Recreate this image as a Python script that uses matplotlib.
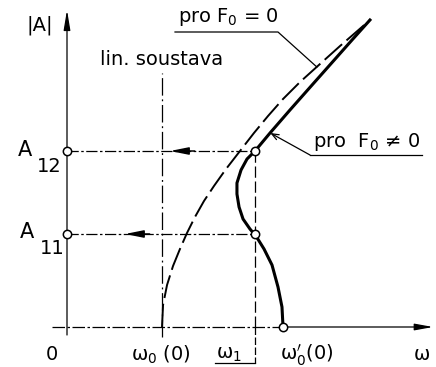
import matplotlib.pyplot as plt

plt.rcParams['font.family'] = ['DejaVu Sans']
plt.rcParams['mathtext.fontset'] = 'dejavusans'

# backbone curve for F0 = 0 (dashed)
omega_free = [1.000, 1.011, 1.053, 1.116, 1.189, 1.263, 1.347, 1.442, 1.547,
              1.674, 1.821, 1.968, 2.116, 2.274, 2.453, 2.663, 2.874, 3.032, 3.189]
amp_free = [0.00, 0.22, 0.42, 0.61, 0.78, 0.94, 1.10, 1.26, 1.41,
            1.58, 1.76, 1.94, 2.11, 2.28, 2.45, 2.63, 2.81, 2.94, 3.07]

# response curve for F0 != 0
omega_forced = [2.274, 2.263, 2.221, 2.158, 2.074, 1.989, 1.926, 1.853, 1.811,
                1.789, 1.789, 1.832, 1.895, 1.979, 2.137, 2.347, 2.589, 2.832,
                3.000, 3.189]
amp_forced = [0.00, 0.20, 0.40, 0.62, 0.78, 0.91, 0.98, 1.08, 1.20,
              1.33, 1.44, 1.57, 1.68, 1.76, 1.94, 2.17, 2.43, 2.69,
              2.87, 3.07]

omega_lin = 1.0      # omega_0(0), linear system
omega_1 = 1.975
omega_0p = 2.274     # omega_0'(0)
A11 = 0.93
A12 = 1.76

fig = plt.figure(figsize=(4.36, 3.67), dpi=100)
ax = fig.add_axes([0, 0, 1, 1])
ax.set_xlim(-67 / 95, (436 - 67) / 95)
ax.set_ylim(-(367 - 327) / 100, 327 / 100)
ax.axis('off')

k = 'black'

# axes with arrows
ax.plot([-0.158, omega_0p], [0, 0], color=k, lw=0.9, dashes=(10, 2, 2, 2))
ax.annotate('', xy=(3.853, 0), xytext=(omega_0p, 0),
            arrowprops=dict(arrowstyle='-|>,head_length=1.1,head_width=0.2',
                            color=k, lw=0.9, shrinkA=0, shrinkB=0))
ax.annotate('', xy=(0, 3.17), xytext=(0, -0.08),
            arrowprops=dict(arrowstyle='-|>,head_length=1.2,head_width=0.2',
                            color=k, lw=0.9, shrinkA=0, shrinkB=0))

# linear system line
ax.plot([omega_lin, omega_lin], [-0.10, 2.54], color=k, lw=0.9,
        dashes=(14, 3, 1.5, 3))

# omega_1 line with bracket
ax.plot([omega_1, omega_1], [A12, 0], color=k, lw=0.9, dashes=(9, 3))
ax.plot([omega_1, omega_1], [0, -0.36], color=k, lw=0.9, dashes=(6, 2))
ax.plot([1.558, omega_1], [-0.36, -0.36], color=k, lw=0.9)

# horizontal projections to the amplitude axis
for a, tip in [(A12, 1.084), (A11, 0.61)]:
    ax.plot([0, omega_1], [a, a], color=k, lw=0.9, dashes=(9, 2, 2, 2))
    ax.annotate('', xy=(tip, a), xytext=(tip + 0.26, a),
                arrowprops=dict(arrowstyle='-|>,head_length=1.1,head_width=0.22',
                                color=k, lw=1.1, shrinkA=0, shrinkB=0))

# curves
ax.plot(omega_free, amp_free, color=k, lw=1.4, dashes=(12, 3),
        solid_capstyle='butt')
ax.plot(omega_forced, amp_forced, color=k, lw=2.2, solid_joinstyle='round')

# marked points
pts_w = [0, 0, omega_1, omega_1, omega_0p]
pts_a = [A11, A12, A11, A12, 0]
ax.plot(pts_w, pts_a, 'o', ms=6, mfc='white', mec=k, mew=1.1, zorder=5)

# leaders
ax.plot([1.137, 2.221, 2.63], [2.95, 2.95, 2.60], color=k, lw=0.9)
ax.plot([3.737, 2.558], [1.72, 1.72], color=k, lw=0.9)
ax.annotate('', xy=(2.14, 1.94), xytext=(2.558, 1.72),
            arrowprops=dict(arrowstyle='->,head_length=0.5,head_width=0.2',
                            color=k, lw=0.9, shrinkA=0, shrinkB=0))

fs = 14
ax.text(-0.284, 3.02, '|A|', fontsize=fs, ha='center', va='center')
ax.text(0.347, 2.67, 'lin. soustava', fontsize=fs, ha='left', va='center')
ax.text(1.168, 3.10, 'pro F$_0$ = 0', fontsize=fs, ha='left', va='center')
ax.text(2.589, 1.85, 'pro  F$_0$ ≠ 0', fontsize=fs, ha='left', va='center')
ax.text(-0.516, 1.77, 'A', fontsize=fs + 1, ha='left', va='center')
ax.text(-0.32, 1.60, '12', fontsize=fs, ha='left', va='center')
ax.text(-0.495, 0.95, 'A', fontsize=fs + 1, ha='left', va='center')
ax.text(-0.29, 0.78, '11', fontsize=fs, ha='left', va='center')

yb = -0.28
ax.text(-0.158, yb, '0', fontsize=fs, ha='center', va='center')
ax.text(0.99, yb, 'ω$_0$ (0)', fontsize=fs, ha='center', va='center')
ax.text(1.70, yb, 'ω$_1$', fontsize=fs, ha='center', va='center')
ax.text(2.53, yb, "ω$_0'$(0)", fontsize=fs, ha='center', va='center')
ax.text(3.74, yb, 'ω', fontsize=fs, ha='center', va='center')

fig.savefig('out.png', dpi=100)
